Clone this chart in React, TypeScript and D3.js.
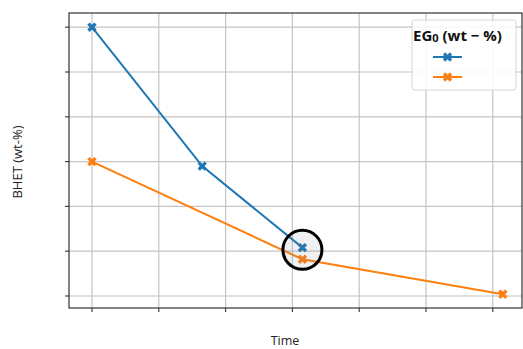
import React from "react";
import * as d3 from "d3";

// Series: BHET content over time for two initial EG loadings
const blueTime = [0, 1.65, 3.15];
const blueBhet = [6.0, 2.9, 1.08];
const orangeTime = [0, 3.15, 6.15];
const orangeBhet = [3.0, 0.82, 0.04];

const xTicks = [0, 1, 2, 3, 4, 5, 6];
const yTicks = [0, 1, 2, 3, 4, 5, 6];

// Highlighted point (circled)
const highlightTime = [3.15];
const highlightBhet = [1.03];

const legendTitle = "EG";
const legendSub = "0";
const legendRest = " (wt \u2212 %)";
const xLabel = "Time";
const yLabel = "BHET (wt-%)";

const W = 523;
const H = 349;
const left = 69;
const right = 522;
const top = 13;
const bottom = 308;

const BLUE = "#1f77b4";
const ORANGE = "#ff7f0e";

export default function App() {
  const x = d3.scaleLinear().domain([-0.344, 6.437]).range([left, right]);
  const y = d3.scaleLinear().domain([-0.268, 6.317]).range([bottom, top]);

  const line = d3
    .line<[number, number]>()
    .x((d) => x(d[0]))
    .y((d) => y(d[1]));

  const marker = d3.symbol().type(d3.symbolCross).size(55)() as string;

  const series = [
    { color: BLUE, pts: blueTime.map((t, i) => [t, blueBhet[i]] as [number, number]) },
    { color: ORANGE, pts: orangeTime.map((t, i) => [t, orangeBhet[i]] as [number, number]) },
  ];

  const font = "'Open Sans', 'DejaVu Sans', sans-serif";

  return (
    <svg
      width={W}
      height={H}
      style={{ position: "absolute", left: 0, top: 0, background: "#fff" }}
      fontFamily={font}
    >
      {/* grid */}
      {xTicks.map((t) => (
        <line key={"gx" + t} x1={x(t)} x2={x(t)} y1={top} y2={bottom} stroke="#c4c4c4" strokeWidth={1.2} />
      ))}
      {yTicks.map((t) => (
        <line key={"gy" + t} x1={left} x2={right} y1={y(t)} y2={y(t)} stroke="#c4c4c4" strokeWidth={1.2} />
      ))}

      {/* frame */}
      <rect x={left} y={top} width={right - left} height={bottom - top} fill="none" stroke="#333" strokeWidth={1.2} />

      {/* tick marks */}
      {xTicks.map((t) => (
        <line key={"tx" + t} x1={x(t)} x2={x(t)} y1={bottom} y2={bottom + 4} stroke="#333" strokeWidth={1.1} />
      ))}
      {yTicks.map((t) => (
        <line key={"ty" + t} x1={left - 4} x2={left} y1={y(t)} y2={y(t)} stroke="#333" strokeWidth={1.1} />
      ))}

      {/* series */}
      {series.map((s, i) => (
        <g key={"s" + i}>
          <path d={line(s.pts) as string} fill="none" stroke={s.color} strokeWidth={2} />
          {s.pts.map((p, j) => (
            <path
              key={j}
              d={marker}
              transform={`translate(${x(p[0])},${y(p[1])}) rotate(45)`}
              fill={s.color}
            />
          ))}
        </g>
      ))}

      {/* highlight circle */}
      {highlightTime.map((t, i) => (
        <circle
          key={"h" + i}
          cx={x(t)}
          cy={y(highlightBhet[i])}
          r={19.5}
          fill="rgba(120,130,140,0.12)"
          stroke="#000"
          strokeWidth={3}
        />
      ))}

      {/* legend */}
      <g>
        <rect x={412} y={20} width={104} height={70} rx={3} fill="rgba(255,255,255,0.85)" stroke="#d6d6d6" strokeWidth={1} />
        <text x={413} y={41} fontSize={15} fontWeight="bold" fill="#111">
          {legendTitle}
          <tspan fontSize={11} dy={1}>{legendSub}</tspan>
          <tspan dy={-1}>{legendRest}</tspan>
        </text>
        {[BLUE, ORANGE].map((c, i) => (
          <g key={"l" + i}>
            <line x1={433} x2={462} y1={57 + i * 20} y2={57 + i * 20} stroke={c} strokeWidth={2} />
            <path d={marker} transform={`translate(447.5,${57 + i * 20}) rotate(45)`} fill={c} />
          </g>
        ))}
      </g>

      {/* axis labels */}
      <text x={285} y={345} fontSize={12.5} textAnchor="middle" fill="#222">
        {xLabel}
      </text>
      <text
        transform={`translate(22,162) rotate(-90)`}
        fontSize={13}
        textAnchor="middle"
        fill="#222"
      >
        {yLabel}
      </text>
    </svg>
  );
}
